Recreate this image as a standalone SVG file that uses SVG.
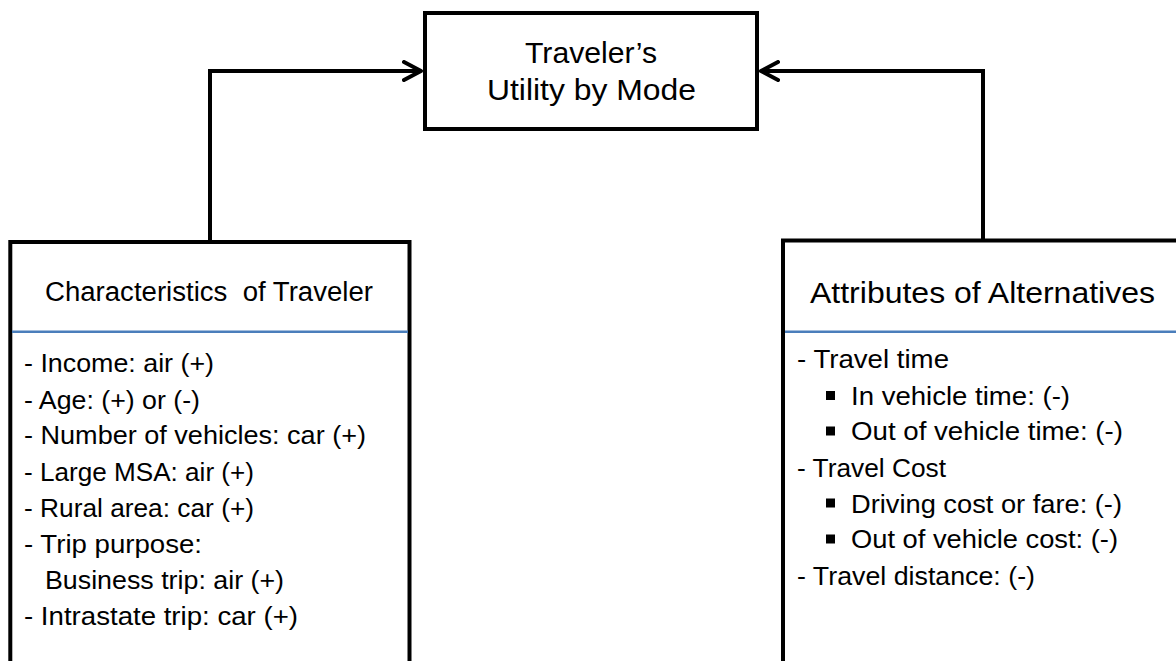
<svg xmlns="http://www.w3.org/2000/svg" width="1176" height="661" viewBox="0 0 1176 661">
  <style>
    .box { fill: #ffffff; stroke: #000000; stroke-width: 4; }
    .div { stroke: #4A7EBB; stroke-width: 2.5; }
    .conn { fill: none; stroke: #000000; stroke-width: 4; }
    .t { font-family: "Liberation Sans", Arial, sans-serif; fill: #000000; }
    .title { font-size: 30px; }
    .head { font-size: 27px; }
    .head2 { font-size: 30px; }
    .item { font-size: 26.5px; }
    .bul { fill: #000000; }
  </style>
  <defs>
    <marker id="chev" viewBox="0 0 22 22" markerUnits="userSpaceOnUse" markerWidth="22" markerHeight="22" refX="19" refY="11" orient="auto">
      <path d="M2,2 L19,11 L2,20" fill="none" stroke="#000000" stroke-width="4" stroke-linecap="round" stroke-linejoin="round"/>
    </marker>
  </defs>
  <rect width="1176" height="661" fill="#ffffff"/>

  <g id="connectors">
    <path class="conn" d="M210,242 V71 H421" marker-end="url(#chev)"/>
    <path class="conn" d="M983,240 V71 H761" marker-end="url(#chev)"/>
  </g>

  <g id="utility">
    <rect class="box" x="425" y="13" width="332" height="116"/>
    <text class="t title" x="525" y="63" textLength="132" lengthAdjust="spacingAndGlyphs">Traveler’s</text>
    <text class="t title" x="487" y="100" textLength="209" lengthAdjust="spacingAndGlyphs">Utility by Mode</text>
  </g>

  <g id="characteristics">
    <rect class="box" x="10.3" y="242" width="399.2" height="500"/>
    <line class="div" x1="12" y1="331.7" x2="408" y2="331.7"/>
    <text class="t head" x="45" y="300.5" textLength="328" lengthAdjust="spacingAndGlyphs" xml:space="preserve">Characteristics  of Traveler</text>
    <text class="t item" x="24" y="372" textLength="190" lengthAdjust="spacingAndGlyphs">- Income: air (+)</text>
    <text class="t item" x="24" y="409" textLength="176" lengthAdjust="spacingAndGlyphs">- Age: (+) or (-)</text>
    <text class="t item" x="24" y="444" textLength="342" lengthAdjust="spacingAndGlyphs">- Number of vehicles: car (+)</text>
    <text class="t item" x="24" y="481" textLength="230" lengthAdjust="spacingAndGlyphs">- Large MSA: air (+)</text>
    <text class="t item" x="24" y="517" textLength="230" lengthAdjust="spacingAndGlyphs">- Rural area: car (+)</text>
    <text class="t item" x="24" y="553" textLength="178" lengthAdjust="spacingAndGlyphs">- Trip purpose:</text>
    <text class="t item" x="45" y="589" textLength="239" lengthAdjust="spacingAndGlyphs">Business trip: air (+)</text>
    <text class="t item" x="24" y="625" textLength="274" lengthAdjust="spacingAndGlyphs">- Intrastate trip: car (+)</text>
  </g>

  <g id="attributes">
    <rect class="box" x="783" y="240.5" width="500" height="500"/>
    <line class="div" x1="785" y1="331.7" x2="1176" y2="331.7"/>
    <text class="t head2" x="810" y="303" textLength="345" lengthAdjust="spacingAndGlyphs">Attributes of Alternatives</text>
    <text class="t item" x="797" y="368" textLength="152" lengthAdjust="spacingAndGlyphs">- Travel time</text>
    <rect class="bul" x="826" y="391" width="9" height="9"/>
    <text class="t item" x="851" y="405" textLength="219" lengthAdjust="spacingAndGlyphs">In vehicle time: (-)</text>
    <rect class="bul" x="826" y="426.5" width="9" height="9"/>
    <text class="t item" x="851" y="440" textLength="272" lengthAdjust="spacingAndGlyphs">Out of vehicle time: (-)</text>
    <text class="t item" x="797" y="477" textLength="149" lengthAdjust="spacingAndGlyphs">- Travel Cost</text>
    <rect class="bul" x="826" y="498.5" width="9" height="9"/>
    <text class="t item" x="851" y="513" textLength="271" lengthAdjust="spacingAndGlyphs">Driving cost or fare: (-)</text>
    <rect class="bul" x="826" y="534.5" width="9" height="9"/>
    <text class="t item" x="851" y="548" textLength="267" lengthAdjust="spacingAndGlyphs">Out of vehicle cost: (-)</text>
    <text class="t item" x="797" y="585" textLength="238" lengthAdjust="spacingAndGlyphs">- Travel distance: (-)</text>
  </g>
</svg>
